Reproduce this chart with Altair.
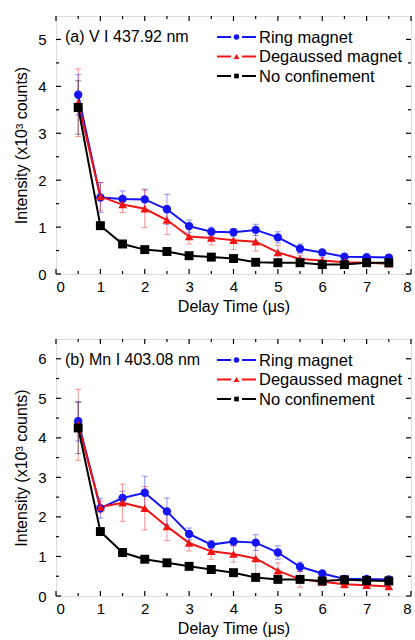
import altair as alt
import pandas as pd

FONT = "Liberation Sans"

delay = [0.5, 1, 1.5, 2, 2.5, 3, 3.5, 4, 4.5, 5, 5.5, 6, 6.5, 7, 7.5]
series_names = ["Ring magnet", "Degaussed magnet", "No confinement"]
series_colors = ["#1414f5", "#f01414", "#000000"]
series_shapes = ["circle", "triangle-up", "square"]
series_sizes = [70, 80, 45]
legend_sizes = [30, 36, 22]

# Panel (a) V I 437.92 nm
ring_a = [3.82, 1.63, 1.60, 1.59, 1.38, 1.02, 0.90, 0.89, 0.94, 0.78, 0.54, 0.46, 0.37, 0.36, 0.35]
ring_a_err = [0.43, 0.32, 0.17, 0.22, 0.32, 0.13, 0.10, 0.08, 0.12, 0.12, 0.10, 0.06, 0.05, 0.04, 0.04]
degauss_a = [3.65, 1.65, 1.48, 1.39, 1.15, 0.80, 0.77, 0.72, 0.69, 0.46, 0.32, 0.29, 0.25, 0.24, 0.22]
degauss_a_err = [0.72, 0.30, 0.17, 0.40, 0.31, 0.16, 0.15, 0.20, 0.20, 0.15, 0.08, 0.06, 0.05, 0.04, 0.04]
noconf_a = [3.55, 1.03, 0.64, 0.52, 0.48, 0.39, 0.36, 0.33, 0.25, 0.24, 0.24, 0.20, 0.20, 0.24, 0.24]
noconf_a_err = [0.57, 0.03, 0.03, 0.03, 0.03, 0.03, 0.03, 0.03, 0.03, 0.03, 0.03, 0.03, 0.03, 0.03, 0.03]

# Panel (b) Mn I 403.08 nm
ring_b = [4.42, 2.22, 2.48, 2.61, 2.14, 1.57, 1.30, 1.38, 1.35, 1.10, 0.74, 0.57, 0.43, 0.43, 0.42]
ring_b_err = [0.50, 0.25, 0.17, 0.42, 0.34, 0.15, 0.10, 0.10, 0.20, 0.17, 0.12, 0.06, 0.05, 0.05, 0.04]
degauss_b = [4.33, 2.25, 2.36, 2.22, 1.76, 1.34, 1.13, 1.06, 0.95, 0.64, 0.42, 0.36, 0.30, 0.27, 0.24]
degauss_b_err = [0.90, 0.15, 0.47, 0.55, 0.36, 0.20, 0.20, 0.20, 0.40, 0.20, 0.20, 0.10, 0.10, 0.08, 0.05]
noconf_b = [4.25, 1.63, 1.10, 0.93, 0.84, 0.75, 0.67, 0.59, 0.47, 0.42, 0.42, 0.38, 0.41, 0.39, 0.38]
noconf_b_err = [0.65, 0.05, 0.04, 0.04, 0.04, 0.04, 0.04, 0.04, 0.04, 0.04, 0.04, 0.04, 0.04, 0.04, 0.04]

x_major = [0, 1, 2, 3, 4, 5, 6, 7, 8]
x_minor = [0.5, 1.5, 2.5, 3.5, 4.5, 5.5, 6.5, 7.5]

X_TITLE = "Delay Time (\u03bcs)"
Y_TITLE = "Intensity (x10\u00b3 counts)"

W = 355


def panel(label, values, errs, ymax, y_major, y_minor, H):
    rows = []
    for name, vals, er in zip(series_names, values, errs):
        for t, v, e in zip(delay, vals, er):
            rows.append({"t": t, "value": v, "lo": v - e, "hi": v + e, "series": name})
    df = pd.DataFrame(rows)

    xs = alt.Scale(domain=[0, 8], nice=False, zero=False)
    ys = alt.Scale(domain=[0, ymax], nice=False, zero=False)
    cs = alt.Scale(domain=series_names, range=series_colors)
    ss = alt.Scale(domain=series_names, range=series_shapes)
    szs = alt.Scale(domain=series_names, range=series_sizes)

    xaxis = alt.Axis(values=x_major, ticks=False, domain=False, grid=False,
                     labelFontSize=15, labelPadding=5, titleFontSize=16,
                     titlePadding=4, titleFontWeight="normal", format="d")
    yaxis = alt.Axis(values=y_major, ticks=False, domain=False, grid=False,
                     labelFontSize=15, labelPadding=10, titleFontSize=16,
                     titlePadding=8, titleFontWeight="normal", format="d")

    def X(field):
        return alt.X(field, scale=xs, axis=xaxis, title=X_TITLE)

    def Y(field):
        return alt.Y(field, scale=ys, axis=yaxis, title=Y_TITLE)

    col = alt.Color("series:N", scale=cs, legend=None)
    base = alt.Chart(df)

    err_rule = base.mark_rule(strokeWidth=1, opacity=0.45).encode(
        x=X("t:Q"), y=Y("lo:Q"), y2="hi:Q", color=col)
    cap_lo = base.mark_tick(orient="horizontal", size=6, thickness=1, opacity=0.45).encode(
        x=X("t:Q"), y=Y("lo:Q"), color=col)
    cap_hi = base.mark_tick(orient="horizontal", size=6, thickness=1, opacity=0.45).encode(
        x=X("t:Q"), y=Y("hi:Q"), color=col)
    lines = base.mark_line(strokeWidth=2).encode(
        x=X("t:Q"), y=Y("value:Q"), color=col, order=alt.Order("t:Q"))
    pts = base.mark_point(filled=True, opacity=1).encode(
        x=X("t:Q"), y=Y("value:Q"), color=col,
        shape=alt.Shape("series:N", scale=ss, legend=None),
        size=alt.Size("series:N", scale=szs, legend=None))

    # inward ticks on all four sides
    tick_layers = []
    for vals, ln in ((x_major, 5), (x_minor, 3)):
        tb = alt.Chart(pd.DataFrame({"v": vals}))
        tick_layers.append(tb.mark_rule(color="black", strokeWidth=1.2).encode(
            x=X("v:Q"), y=alt.value(H), y2=alt.value(H - ln)))
        tick_layers.append(tb.mark_rule(color="black", strokeWidth=1.2).encode(
            x=X("v:Q"), y=alt.value(0), y2=alt.value(ln)))
    for vals, ln in ((y_major, 5), (y_minor, 3)):
        tb = alt.Chart(pd.DataFrame({"v": vals}))
        tick_layers.append(tb.mark_rule(color="black", strokeWidth=1.2).encode(
            y=Y("v:Q"), x=alt.value(0), x2=alt.value(ln)))
        tick_layers.append(tb.mark_rule(color="black", strokeWidth=1.2).encode(
            y=Y("v:Q"), x=alt.value(W), x2=alt.value(W - ln)))

    one = alt.Chart(pd.DataFrame({"a": [0]}))
    ann = one.mark_text(text=label, align="left", baseline="middle", fontSize=16,
                        font=FONT, color="black").encode(x=alt.value(9), y=alt.value(21))

    leg_layers = []
    row_y = [21, 40.5, 60]
    for name, c, shp, sz, ry in zip(series_names, series_colors, series_shapes, legend_sizes, row_y):
        leg_layers.append(one.mark_rule(color=c, strokeWidth=2).encode(
            x=alt.value(161), x2=alt.value(175), y=alt.value(ry)))
        leg_layers.append(one.mark_rule(color=c, strokeWidth=2).encode(
            x=alt.value(186), x2=alt.value(200), y=alt.value(ry)))
        leg_layers.append(one.mark_point(shape=shp, filled=True, color=c, size=sz, opacity=1).encode(
            x=alt.value(180.5), y=alt.value(ry)))
        leg_layers.append(one.mark_text(text=name, align="left", baseline="middle", fontSize=16.5,
                                        font=FONT, color="black").encode(
            x=alt.value(203), y=alt.value(ry + 0.5)))

    layers = [lines, err_rule, cap_lo, cap_hi, pts] + tick_layers + [ann] + leg_layers
    return alt.layer(*layers).properties(width=W, height=H)


top = panel("(a) V I 437.92 nm",
            [ring_a, degauss_a, noconf_a], [ring_a_err, degauss_a_err, noconf_a_err],
            5.5, [0, 1, 2, 3, 4, 5], [0.5, 1.5, 2.5, 3.5, 4.5], 258)
bottom = panel("(b) Mn I 403.08 nm",
               [ring_b, degauss_b, noconf_b], [ring_b_err, degauss_b_err, noconf_b_err],
               6.5, [0, 1, 2, 3, 4, 5, 6], [0.5, 1.5, 2.5, 3.5, 4.5, 5.5], 257)

chart = alt.vconcat(top, bottom, spacing=22).properties(
    padding={"left": 13, "top": 14, "right": 0, "bottom": 0},
    background="white",
).configure_view(
    stroke="black", strokeWidth=1.6
).configure(
    font=FONT
).configure_axis(
    labelColor="black", titleColor="black", labelFont=FONT, titleFont=FONT
)

chart.save("out.html", embed_options={"renderer": "svg", "actions": False})
